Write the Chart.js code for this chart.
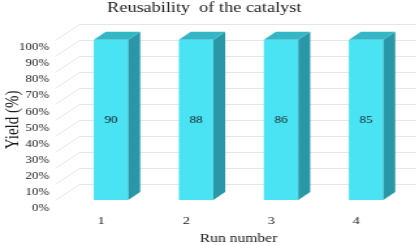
<!DOCTYPE html>
<html>
<head>
<meta charset="utf-8">
<script src="https://cdn.jsdelivr.net/npm/chart.js@4"></script>
<style>
	html, body { margin: 0; padding: 0; background: #fff; overflow: hidden; }
	/* the original picture is stretched sideways, so draw narrow and widen it */
	#wrap { position: absolute; left: 0; top: 0; width: 322px; height: 245px; transform: scaleX(1.3012); transform-origin: 0 0; }
</style>
</head>
<body>
<div id="wrap"><canvas id="chart"></canvas></div>
<script>
// data
var runs = ['1', '2', '3', '4'];
var yieldLabels = [90, 88, 86, 85];		// numbers printed on the bars
var stackShare = [100, 100, 100, 100];	// 100% stacked column: every bar fills its stack
var yTicks = [0, 10, 20, 30, 40, 50, 60, 70, 80, 90, 100];

var serif = '"Liberation Serif", "Times New Roman", serif';
var depthX = 9.2, depthY = 8;	// half depth of the 3D box

// back wall and side wall grid, drawn under the bars
var walls = {
	id: 'walls',
	beforeDatasetsDraw(chart) {
		var ctx = chart.ctx, area = chart.chartArea, y = chart.scales.y;
		var wallL = area.left - 10;
		ctx.save();
		ctx.strokeStyle = '#e6e6e6';
		ctx.lineWidth = 1;
		yTicks.forEach(v => {
			var yy = Math.round(y.getPixelForValue(v)) + 0.5;
			ctx.beginPath();
			ctx.moveTo(wallL, yy);
			ctx.lineTo(wallL + depthX * 2, yy - depthY * 2);
			ctx.lineTo(area.right + 6, yy - depthY * 2);
			ctx.stroke();
		});
		ctx.restore();
	}
};

// side and top faces of each column plus the value in the middle
var boxes = {
	id: 'boxes',
	afterDatasetsDraw(chart) {
		var ctx = chart.ctx;
		var meta = chart.getDatasetMeta(0);
		ctx.save();
		meta.data.forEach((bar, i) => {
			var l = bar.x - bar.width / 2, r = bar.x + bar.width / 2;
			var t = bar.y, b = bar.base;
			ctx.fillStyle = '#2a97a8';
			ctx.beginPath();
			ctx.moveTo(r, t);
			ctx.lineTo(r + depthX, t - depthY);
			ctx.lineTo(r + depthX, b - depthY);
			ctx.lineTo(r, b);
			ctx.closePath();
			ctx.fill();
			ctx.fillStyle = '#33b6c6';
			ctx.beginPath();
			ctx.moveTo(l, t);
			ctx.lineTo(l + depthX, t - depthY);
			ctx.lineTo(r + depthX, t - depthY);
			ctx.lineTo(r, t);
			ctx.closePath();
			ctx.fill();
			ctx.fillStyle = '#1a1a1a';
			ctx.font = '10px ' + serif;
			ctx.textAlign = 'center';
			ctx.textBaseline = 'middle';
			ctx.fillText(String(yieldLabels[i]), bar.x, (t + b) / 2);
		});
		ctx.restore();
	}
};

var myChart = new Chart(document.getElementById('chart'), {
	type: 'bar',
	data: {
		labels: runs,
		datasets: [{
			label: 'Yield',
			data: stackShare,
			backgroundColor: '#49e3f3',
			borderWidth: 0,
			categoryPercentage: 1,
			barPercentage: 0.405
		}]
	},
	options: {
		responsive: true,
		maintainAspectRatio: false,
		animation: false,
		layout: { padding: { left: 0, right: 8, top: 0, bottom: 0 } },
		plugins: {
			legend: { display: false },
			tooltip: { enabled: false },
			title: {
				display: true,
				text: 'Reusability  of the catalyst',
				color: '#1a1a1a',
				font: { family: serif, size: 14, weight: 'normal' },
				padding: { top: 0, bottom: 23 }
			}
		},
		scales: {
			x: {
				grid: { display: false, drawTicks: false },
				border: { display: false },
				ticks: { color: '#1a1a1a', font: { family: serif, size: 11 }, padding: 14.4, labelOffset: -7.5 },
				title: {
					display: true,
					text: 'Run number',
					color: '#1a1a1a',
					font: { family: serif, size: 12 },
					padding: { top: -10.4, bottom: -1 }
				}
			},
			y: {
				min: 0,
				max: 100,
				afterBuildTicks: axis => { axis.ticks = yTicks.map(v => ({ value: v })); },
				grid: { display: false, drawTicks: false },
				border: { display: false },
				ticks: {
					color: '#1a1a1a',
					font: { family: serif, size: 10 },
					padding: 14.8,
					labelOffset: 8,
					autoSkip: false,
					callback: v => v + '%'
				},
				title: {
					display: true,
					text: 'Yield (%)',
					color: '#1a1a1a',
					font: { family: serif, size: 15 },
					padding: { top: 1.1, bottom: -19.4 }
				}
			}
		}
	},
	plugins: [walls, boxes]
});
</script>
</body>
</html>
